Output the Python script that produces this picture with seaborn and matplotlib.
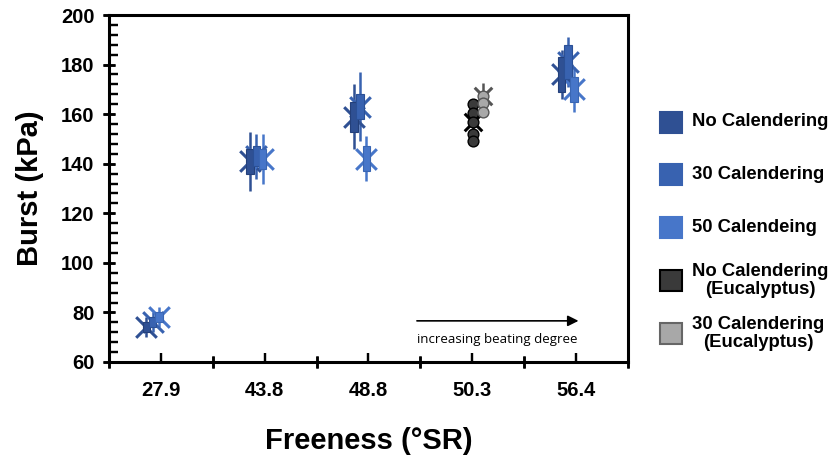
import numpy as np
import pandas as pd
import matplotlib
matplotlib.use("Agg")
import matplotlib.pyplot as plt
import seaborn as sns
from matplotlib.patches import Rectangle
from matplotlib.ticker import FixedLocator, MultipleLocator

# --- Data ---
categories = ['27.9', '43.8', '48.8', '50.3', '56.4']

no_cal_mean = [74, 141, 159, np.nan, 176]
no_cal_box = [2, 5, 6, np.nan, 7]
no_cal_err = [4, 12, 13, np.nan, 10]

cal30_mean = [76, 143, 163, np.nan, 181]
cal30_box = [2, 4, 5, np.nan, 7]
cal30_err = [4, 9, 14, np.nan, 10]

cal50_mean = [78, 142, 142, np.nan, 170]
cal50_box = [2, 4, 5, np.nan, 5]
cal50_err = [4, 10, 9, np.nan, 9]

euc_no_cal_mean = 157
euc_no_cal_err = 9
euc_no_cal_reps = [164, 160.5, 157, 152, 149]

euc_30_mean = 167.5
euc_30_err = 5
euc_30_reps = [167.5, 164.5, 161]

legend_labels = ['No Calendering', '30 Calendering', '50 Calendeing',
                 'No Calendering\n(Eucalyptus)', '30 Calendering\n(Eucalyptus)']

# --- Style ---
sns.set_theme(style="ticks", rc={'axes.axisbelow': False,
                                 'xtick.direction': 'inout', 'ytick.direction': 'inout'})
plt.rcParams['font.family'] = ['Liberation Sans', 'DejaVu Sans']
for k in ['text.color', 'axes.labelcolor', 'xtick.color', 'ytick.color', 'axes.edgecolor']:
    plt.rcParams[k] = 'black'

C_NO = '#2f5093'
C_30 = '#3862b0'
C_50 = '#4776c9'
C_EUC_NO = '#3a3a3a'
C_EUC_30 = '#a8a8a8'

RECT = [0.1313, 0.2044, 0.6253, 0.7626]


def draw_blue(ax, mean, box, err, offset, color, edge):
    df = pd.DataFrame({'x': np.arange(len(categories)) + 0.5 + offset,
                       'm': mean, 'b': box, 'e': err}).dropna()
    ax.vlines(df['x'], df['m'] - df['e'], df['m'] + df['e'], color=color, lw=1.8, zorder=2)
    sns.scatterplot(data=df, x='x', y='m', marker='x', s=220, color=color,
                    linewidth=2.2, ax=ax, zorder=3, legend=False)
    ax.bar(df['x'], 2 * df['b'], bottom=df['m'] - df['b'], width=0.072,
           color=color, edgecolor=edge, lw=0.8, zorder=4)


def draw_euc(ax, mean, err, reps, offset, face, edge):
    x = 3 + 0.5 + offset
    ax.vlines([x], [mean - err], [mean + err], color=edge, lw=1.8, zorder=2)
    sns.scatterplot(x=[x], y=[mean], marker='x', s=160, color=edge,
                    linewidth=2.2, ax=ax, zorder=3, legend=False)
    sns.scatterplot(x=[x] * len(reps), y=reps, marker='o', s=60, color=face,
                    edgecolor=edge, linewidth=1.0, ax=ax, zorder=5, legend=False)


def set_ticks(a):
    a.set_xlim(0, 5)
    a.set_ylim(60, 200)
    a.xaxis.set_major_locator(FixedLocator(np.arange(0, 6)))
    a.xaxis.set_minor_locator(FixedLocator(np.arange(len(categories)) + 0.5))
    a.yaxis.set_major_locator(MultipleLocator(20))
    a.yaxis.set_minor_locator(MultipleLocator(4))


fig = plt.figure(figsize=(8.3, 4.55), dpi=100)
ax = fig.add_axes(RECT)

draw_blue(ax, no_cal_mean, no_cal_box, no_cal_err, -0.14, C_NO, '#24407a')
draw_blue(ax, cal30_mean, cal30_box, cal30_err, -0.08, C_30, '#2b5096')
draw_blue(ax, cal50_mean, cal50_box, cal50_err, -0.02, C_50, '#3a66b3')
draw_euc(ax, euc_no_cal_mean, euc_no_cal_err, euc_no_cal_reps, 0.01, C_EUC_NO, '#000000')
draw_euc(ax, euc_30_mean, euc_30_err, euc_30_reps, 0.10, C_EUC_30, '#555555')

# arrow annotation
ax.annotate('', xy=(4.55, 76.6), xytext=(2.94, 76.6),
            arrowprops=dict(arrowstyle='-|>', color='black', lw=1.2, mutation_scale=16))
ax.text(3.74, 69, 'increasing beating degree', ha='center', va='center',
        fontsize=9.5, family=['Open Sans', 'DejaVu Sans'])

for sp in ax.spines.values():
    sp.set_color('black')
    sp.set_linewidth(2.2)
    sp.set_visible(True)

ax.set_xlabel('Freeness (°SR)', fontsize=21, fontweight='bold', labelpad=19)
ax.set_ylabel('Burst (kPa)', fontsize=21, fontweight='bold', labelpad=12)

# legend, drawn in figure pixels
W, H = 830, 455
faces = [C_NO, C_30, C_50, C_EUC_NO, C_EUC_30]
edges = [C_NO, C_30, C_50, '#000000', '#666666']
for i, (lab, fc, ec) in enumerate(zip(legend_labels, faces, edges)):
    yc = 122 + i * 52.8
    fig.patches.append(Rectangle((660 / W, 1 - (yc + 10.5) / H), 22 / W, 21 / H,
                                 transform=fig.transFigure, facecolor=fc,
                                 edgecolor=ec, lw=1.5))
    fig.text(692 / W, 1 - yc / H, lab, ha='left', va='center', fontsize=13.3,
             fontweight='bold', multialignment='center', linespacing=1.1)

# main axes: labels + ticks
set_ticks(ax)
ax.set_xticklabels([''] * 6)
ax.set_xticklabels(categories, minor=True)
ax.tick_params(axis='x', which='major', direction='inout', length=9, width=1.8, bottom=True)
ax.tick_params(axis='x', which='minor', direction='in', length=6.5, width=1.6, bottom=True,
               pad=14, labelsize=14.5)
ax.tick_params(axis='y', which='major', direction='inout', length=9, width=1.8, left=True,
               pad=6, labelsize=14.5)
ax.tick_params(axis='y', which='minor', direction='in', length=6.5, width=1.6, left=True)
for lab in ax.get_xticklabels(minor=True) + ax.get_yticklabels():
    lab.set_fontweight('bold')

# transparent overlay axes that only carries the tick marks
ax_t = fig.add_axes(RECT, facecolor='none')
ax_t.set_zorder(5)
ax_t.patch.set_visible(False)
for sp in ax_t.spines.values():
    sp.set_visible(False)
set_ticks(ax_t)
ax_t.tick_params(axis='both', which='both', labelbottom=False, labelleft=False)
ax_t.tick_params(axis='x', which='major', direction='inout', length=9, width=1.8,
                 colors='black', bottom=True)
ax_t.tick_params(axis='x', which='minor', direction='in', length=6.5, width=1.6,
                 colors='black', bottom=True)
ax_t.tick_params(axis='y', which='major', direction='inout', length=9, width=1.8,
                 colors='black', left=True)
ax_t.tick_params(axis='y', which='minor', direction='in', length=6.5, width=1.6,
                 colors='black', left=True)

fig.savefig('out.png', dpi=100)
